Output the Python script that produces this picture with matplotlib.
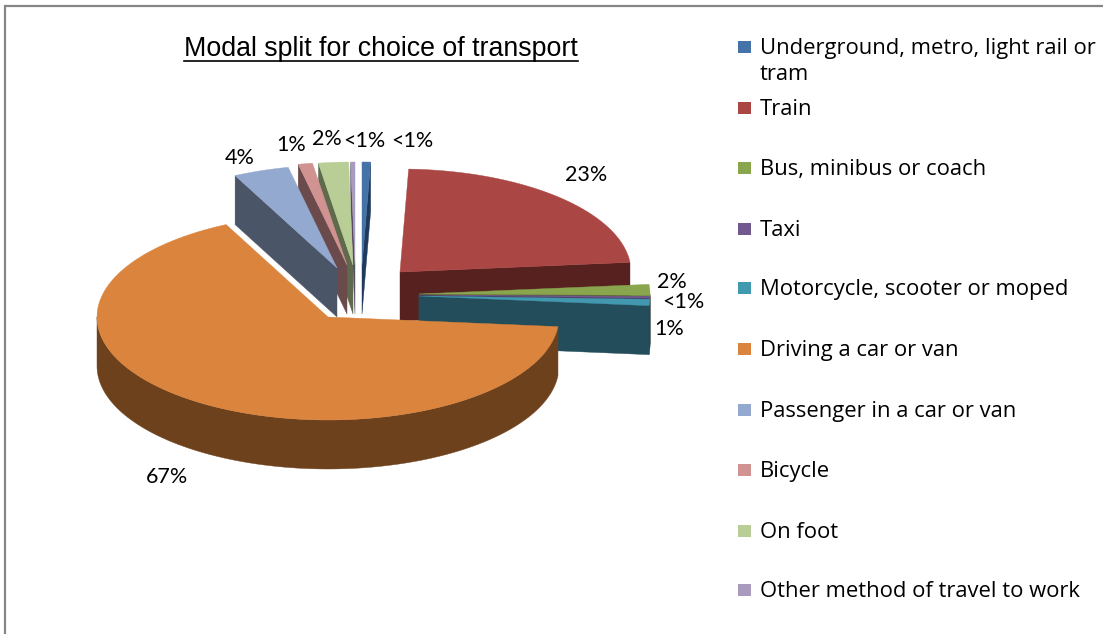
import numpy as np
import matplotlib
matplotlib.use("Agg")
from matplotlib import pyplot as plt
from matplotlib.patches import Rectangle

labels = ["Underground, metro, light rail or\ntram", "Train", "Bus, minibus or coach", "Taxi",
          "Motorcycle, scooter or moped", "Driving a car or van", "Passenger in a car or van",
          "Bicycle", "On foot", "Other method of travel to work"]
values = [0.6, 23, 1.7, 0.3, 1.0, 66.5, 3.9, 1.0, 2.1, 0.3]
pct_labels = ["<1%", "23%", "2%", "<1%", "1%", "67%", "4%", "1%", "2%", "<1%"]

top_colors = ["#4572A7", "#AA4643", "#89A54E", "#71588F", "#4198AF",
              "#DB843D", "#93A9CF", "#D19392", "#B9CD96", "#A99BBD"]
side_colors = ["#1F3A5C", "#572120", "#4C5C2A", "#3B2C50", "#234D5A",
               "#6E411D", "#4A5568", "#6A4A4A", "#5E6A4B", "#544C62"]

# apex of each exploded slice, in pixels
apex_x = [362, 400, 419, 419, 419, 328, 337, 347, 353, 355]
apex_y = [265, 272, 294, 295, 296, 317, 268, 265, 265, 265]
label_x = [412, 586, 672, 683, 669, 167, 240, 291, 327, 364]
label_y = [141, 175, 282, 302, 329, 477, 158, 145, 139, 141]
legend_y = [47, 108, 168, 229, 288, 349, 410, 470, 531, 590]

RX, RY, DEPTH = 231, 103, 49
# draw order: back slices first, the big front one last
draw_order = [9, 8, 7, 6, 0, 1, 2, 3, 4, 5]

fig = plt.figure(figsize=(11.03, 6.34), dpi=100)
ax = fig.add_axes([0, 0, 1, 1])
ax.set_xlim(0, 1103)
ax.set_ylim(634, 0)
ax.axis("off")

ax.add_patch(Rectangle((5, 6), 1110, 650, fc="white", ec="#868686", lw=1.6))


def rim(cx, cy, t0, t1, n=120):
    t = np.radians(np.linspace(t0, t1, n))
    return cx + RX * np.sin(t), cy - RY * np.cos(t)


edges = np.concatenate([[0], np.cumsum(values)]) / sum(values) * 360

for i in draw_order:
    t0, t1 = edges[i], edges[i + 1]
    cx, cy = apex_x[i], apex_y[i]
    side = side_colors[i]

    # cut faces, only the ones turned towards the viewer
    for t, visible in ((t0, np.sin(np.radians(t0)) < 0), (t1, np.sin(np.radians(t1)) > 0)):
        if visible:
            ex, ey = rim(cx, cy, t, t, 1)
            ax.fill([cx, ex[0], ex[0], cx], [cy, ey[0], ey[0] + DEPTH, cy + DEPTH],
                    color=side, lw=0.3, zorder=2)

    # outer wall, front half only
    a, b = max(t0, 90), min(t1, 270)
    if a < b:
        x, y = rim(cx, cy, a, b)
        ax.fill(np.r_[x, x[::-1]], np.r_[y, y[::-1] + DEPTH], color=side, lw=0.3, zorder=2)

    x, y = rim(cx, cy, t0, t1)
    ax.fill(np.r_[cx, x], np.r_[cy, y], color=top_colors[i], lw=0.3, zorder=2)
    ax.text(label_x[i], label_y[i], pct_labels[i], family="Lato", fontsize=15.5, color="black",
            ha="center", va="center", zorder=5)

ax.text(381, 49, "Modal split for choice of transport", family="Liberation Sans", fontsize=19.3,
        ha="center", va="center", color="black")
ax.plot([184, 578], [61, 61], color="black", lw=1.2)

for i, name in enumerate(labels):
    ax.add_patch(Rectangle((738, legend_y[i] - 6), 13, 12, fc=top_colors[i], ec="none"))
    ax.text(760, legend_y[i] + 7, name.split("\n")[0], family="Open Sans", fontsize=15.8,
            color="black", ha="left", va="baseline")
    if "\n" in name:
        ax.text(760, legend_y[i] + 33, name.split("\n")[1], family="Open Sans", fontsize=15.8,
                color="black", ha="left", va="baseline")

fig.savefig("out.png", dpi=100)
